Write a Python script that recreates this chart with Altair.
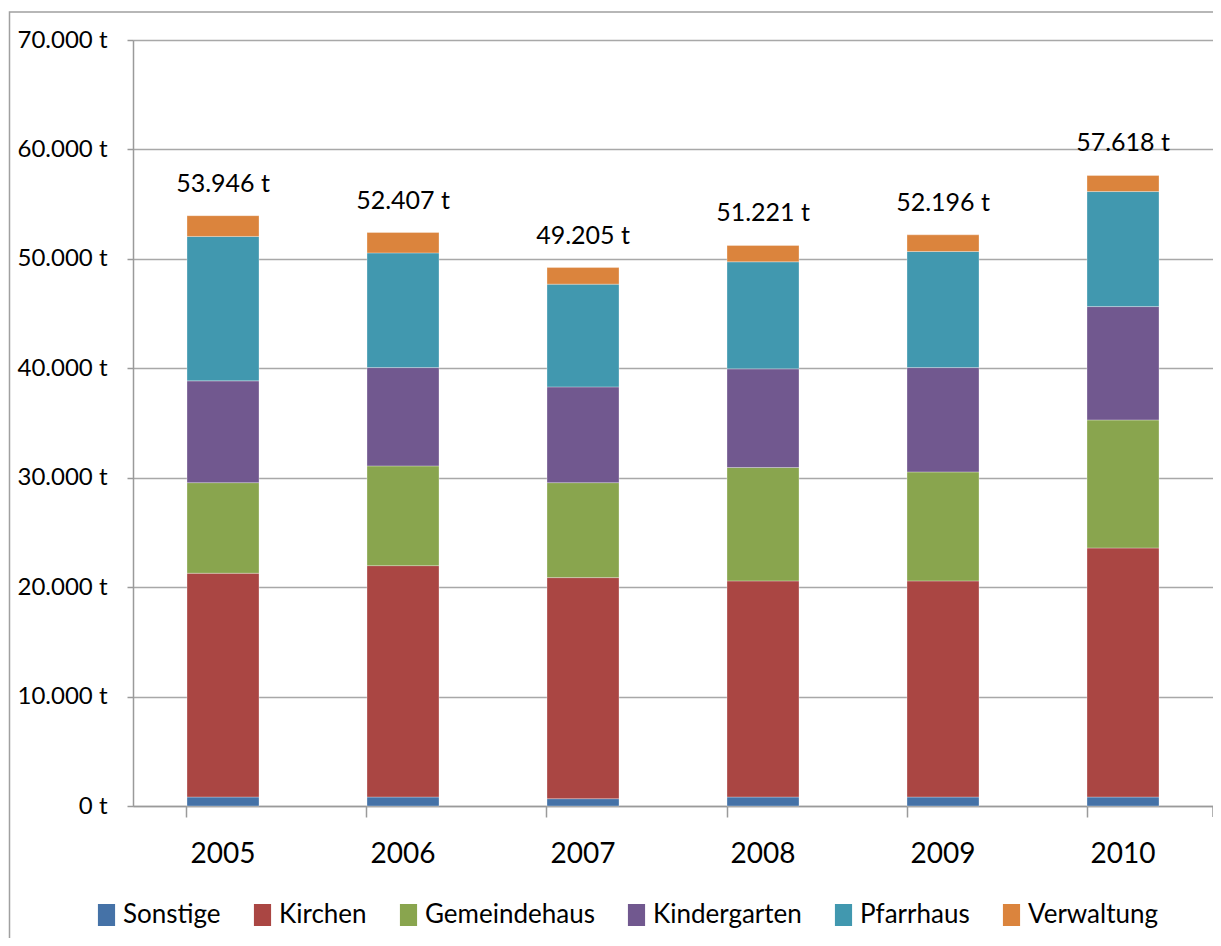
import altair as alt
import pandas as pd

years = ["2005", "2006", "2007", "2008", "2009", "2010"]
series = ["Sonstige", "Kirchen", "Gemeindehaus", "Kindergarten", "Pfarrhaus", "Verwaltung"]
colors = ["#4572A7", "#AA4643", "#89A54E", "#71588F", "#4198AF", "#DB843D"]

sonstige = [820, 820, 670, 820, 820, 820]
kirchen = [20450, 21145, 20200, 19750, 19750, 22760]
gemeindehaus = [8280, 9115, 8680, 10360, 9960, 11700]
kindergarten = [9300, 8985, 8750, 9020, 9535, 10360]
pfarrhaus = [13200, 10480, 9390, 9780, 10605, 10510]
verwaltung = [1896, 1862, 1515, 1491, 1526, 1468]
totals = [53946, 52407, 49205, 51221, 52196, 57618]
y_ticks = [0, 10000, 20000, 30000, 40000, 50000, 60000, 70000]

FONT = "Lato"

series_values = [sonstige, kirchen, gemeindehaus, kindergarten, pfarrhaus, verwaltung]
rows = []
for i, yr in enumerate(years):
    for j, (name, vals) in enumerate(zip(series, series_values)):
        rows.append({"Jahr": yr, "Bereich": name, "Wert": vals[i], "ord": j})
df = pd.DataFrame(rows)

tot = pd.DataFrame({
    "Jahr": years,
    "total": totals,
    "label": [f"{v:,}".replace(",", ".") + " t" for v in totals],
})

x_enc = alt.X(
    "Jahr:N",
    sort=years,
    scale=alt.Scale(paddingInner=0.6, paddingOuter=0.3),
    axis=alt.Axis(
        title=None, labelAngle=0, bandPosition=0, tickSize=11, labelPadding=23,
        labelFont=FONT, labelFontSize=28, labelColor="#000000",
        domainColor="#9a9a9a", tickColor="#9a9a9a", domainWidth=1.5, tickWidth=1.5,
        grid=False,
    ),
)

bars = alt.Chart(df).mark_bar(stroke="#ffffff", strokeWidth=0.6, strokeOpacity=0.5).encode(
    x=x_enc,
    y=alt.Y(
        "Wert:Q",
        stack="zero",
        scale=alt.Scale(domain=[0, 70000], nice=False),
        axis=alt.Axis(
            title=None, values=y_ticks, tickSize=6, labelPadding=20,
            labelFont=FONT, labelFontSize=24, labelColor="#000000",
            labelExpr="replace(format(datum.value, ','), ',', '.') + ' t'",
            grid=True, gridColor="#a8a8a8", gridWidth=1.5,
            domainColor="#9a9a9a", tickColor="#9a9a9a", domainWidth=1.5, tickWidth=1.5,
        ),
    ),
    color=alt.Color(
        "Bereich:N",
        scale=alt.Scale(domain=series, range=colors),
        legend=alt.Legend(
            title=None, orient="none", direction="horizontal",
            legendX=-39.5, legendY=862,
            symbolType="M-0.78,-1H0.78V1H-0.78Z", symbolSize=484, symbolStrokeWidth=0,
            labelFont=FONT, labelFontSize=26, labelColor="#000000", labelLimit=400,
            labelOffset=3.5, columnPadding=28, padding=0,
        ),
    ),
    order=alt.Order("ord:Q"),
)

labels = alt.Chart(tot).mark_text(
    font=FONT, fontSize=25, baseline="alphabetic", dy=-24, color="#000000"
).encode(
    x=alt.X("Jahr:N", sort=years),
    y=alt.Y("total:Q"),
    text="label:N",
)

one = pd.DataFrame({"a": [0]})
end_tick = alt.Chart(one).mark_rule(color="#9a9a9a", strokeWidth=1.5).encode(
    x=alt.value(1080), y=alt.value(766), y2=alt.value(777)
)
border = alt.Chart(one).mark_rect(filled=False, stroke="#a0a0a0", strokeWidth=1.5).encode(
    x=alt.value(-123.5), x2=alt.value(1300), y=alt.value(-28), y2=alt.value(1100)
)

chart = alt.layer(border, bars, labels, end_tick).properties(
    width=1080,
    height=766,
    autosize=alt.AutoSizeParams(type="none"),
    padding={"left": 125, "top": 32, "right": 0, "bottom": 132},
).configure_view(stroke=None).configure(background="#ffffff")

chart.save("out.html", embed_options={"renderer": "svg", "actions": False})
